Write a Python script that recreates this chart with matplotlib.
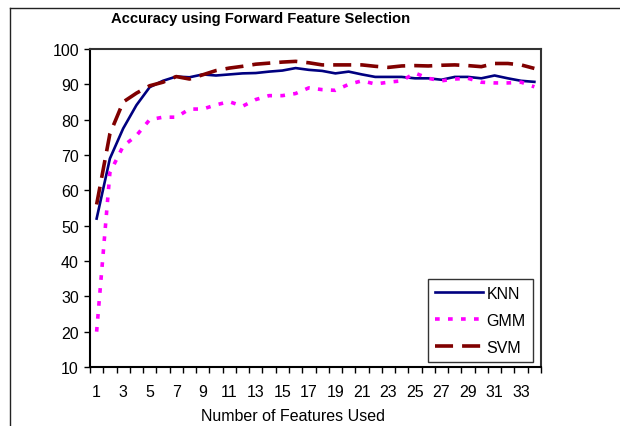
import matplotlib
matplotlib.use("Agg")
import matplotlib.pyplot as plt
from matplotlib.lines import Line2D

plt.rcParams['font.family'] = ['Liberation Sans', 'DejaVu Sans']

features = list(range(1, 35))
knn = [52, 69, 77.5, 84.1, 89.2, 91.0, 92.2, 92.0, 92.8, 92.5, 92.8, 93.1, 93.2, 93.6,
       93.9, 94.6, 94.1, 93.8, 93.1, 93.6, 92.8, 92.1, 92.1, 92.1, 91.7, 91.7, 91.3,
       92.1, 92.1, 91.7, 92.5, 91.7, 91.0, 90.7]
gmm = [20, 65, 72.5, 75.5, 80.0, 80.7, 80.7, 83.0, 83.0, 84.2, 85.1, 83.8, 85.7, 86.8,
       86.8, 87.4, 89.0, 88.5, 88.3, 90.0, 91.0, 90.1, 90.6, 91.0, 93.2, 91.7, 91.0,
       91.5, 91.7, 90.6, 90.4, 90.4, 90.6, 89.3]
svm = [56, 76, 85, 87.5, 89.6, 90.6, 92.2, 91.5, 92.7, 93.9, 94.6, 95.1, 95.7, 96.0,
       96.3, 96.5, 96.1, 95.5, 95.5, 95.5, 95.5, 95.1, 94.8, 95.2, 95.3, 95.2, 95.4,
       95.5, 95.3, 95.0, 95.9, 95.9, 95.5, 94.5]
yticks = list(range(10, 101, 10))
xlabels = list(range(1, 34, 2))

fig = plt.figure(figsize=(6.2, 4.27), dpi=100)
ax = fig.add_axes([90/620, 1-368/427, (541-90)/620, (368-50)/427])

ax.plot(features, knn, color='#000080', lw=1.9, label='KNN')
ax.plot(features, gmm, color='#FF00FF', lw=2.6, linestyle=(0, (1.3, 2.3)), label='GMM')
ax.plot(features, svm, color='#800000', lw=2.6, linestyle=(0, (5, 2.5)), label='SVM')

ax.set_xlim(0.5, 34.5)
ax.set_ylim(10, 100)
ax.set_yticks(yticks)
ax.tick_params(axis='y', direction='out', length=4, width=1, labelsize=11.5, pad=4)

ax.set_xticks([k + 0.5 for k in range(0, 35)])
ax.set_xticklabels([])
ax.tick_params(axis='x', which='major', direction='out', length=4, width=1)
ax.set_xticks(xlabels, minor=True)
ax.set_xticklabels([str(v) for v in xlabels], minor=True)
ax.tick_params(axis='x', which='minor', length=0, labelsize=11.5, pad=12)

for s in ['left', 'bottom']:
    ax.spines[s].set_linewidth(1.5)
    ax.spines[s].set_color('black')
for s in ['top', 'right']:
    ax.spines[s].set_linewidth(1.5)
    ax.spines[s].set_color('#333333')

leg = ax.legend(loc='lower right', fontsize=11.5,
                frameon=True, fancybox=False, edgecolor='black', handlelength=3.0,
                borderpad=0.45, labelspacing=0.75, handletextpad=0.2, borderaxespad=0)
leg.get_frame().set_linewidth(1)
leg.set_bbox_to_anchor(((533-90)/451, (368-363)/318), transform=ax.transAxes)

fig.text(261/620, 1-19/427, 'Accuracy using Forward Feature Selection',
         ha='center', va='center', fontsize=10.6, fontweight='bold')
fig.text(293/620, 1-417/427, 'Number of Features Used', ha='center', va='center', fontsize=11.5)

fig.add_artist(Line2D([10/620, 10/620], [0, 1-9/427], color='#222222', lw=1))
fig.add_artist(Line2D([10/620, 1], [1-9/427, 1-9/427], color='#222222', lw=1))

fig.savefig('out.png', dpi=100)
